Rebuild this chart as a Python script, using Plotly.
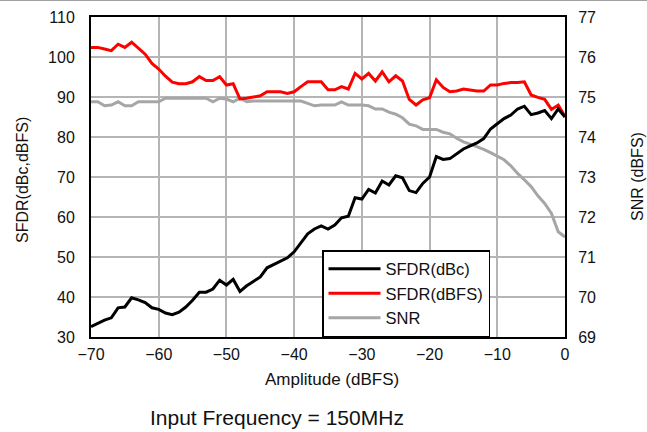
import plotly.graph_objects as go

amplitude = list(range(-70, 1))

sfdr_dbc = [32.6, 33.5, 34.2, 34.8, 37.3, 37.5, 39.8, 39.3, 38.6, 37.3,
            36.9, 36.0, 35.6, 36.2, 37.5, 39.2, 41.2, 41.2, 42.0, 44.2,
            43.0, 44.4, 41.4, 42.8, 43.8, 45.0, 47.3, 48.2, 49.0, 49.8,
            51.3, 53.4, 55.8, 57.0, 57.8, 57.0, 58.0, 59.8, 60.2, 64.8,
            64.5, 66.9, 66.0, 69.0, 68.0, 70.3, 69.8, 66.6, 66.1, 68.4,
            70.0, 75.1, 74.4, 74.6, 75.8, 77.0, 77.8, 78.5, 79.6, 82.0,
            83.3, 84.6, 85.5, 87.0, 87.7, 85.6, 86.0, 86.6, 84.6, 87.0,
            85.0]

sfdr_dbfs = [102.4, 102.4, 102.0, 101.6, 103.2, 102.4, 103.7, 102.2, 100.7, 98.4,
             97.0, 95.2, 93.7, 93.3, 93.3, 93.8, 95.1, 94.1, 94.1, 95.1,
             93.0, 93.3, 89.5, 89.7, 90.0, 90.3, 91.3, 91.3, 91.3, 90.9,
             91.3, 92.6, 93.8, 93.8, 93.8, 91.8, 91.8, 92.6, 92.0, 95.9,
             94.5, 95.9, 94.0, 96.3, 93.8, 95.3, 94.0, 89.4, 88.0, 89.3,
             89.8, 94.3, 92.4, 91.3, 91.5, 92.0, 91.8, 91.5, 91.5, 93.0,
             93.0, 93.4, 93.6, 93.6, 93.8, 90.5, 89.9, 89.4, 86.9, 88.0,
             85.1]

snr = [74.88, 74.88, 74.78, 74.80, 74.88, 74.78, 74.78, 74.88, 74.88, 74.88,
       74.88, 74.97, 74.97, 74.97, 74.97, 74.97, 74.97, 74.97, 74.88, 74.97,
       74.95, 74.88, 74.97, 74.88, 74.90, 74.90, 74.90, 74.90, 74.90, 74.90,
       74.90, 74.90, 74.84, 74.78, 74.80, 74.80, 74.80, 74.88, 74.80, 74.80,
       74.80, 74.78, 74.70, 74.70, 74.62, 74.57, 74.48, 74.32, 74.28, 74.19,
       74.19, 74.19, 74.12, 74.08, 73.97, 73.88, 73.82, 73.76, 73.69, 73.61,
       73.51, 73.43, 73.28, 73.09, 72.93, 72.76, 72.53, 72.34, 72.09, 71.63,
       71.50]

x_ticks = [-70, -60, -50, -40, -30, -20, -10, 0]
x_tick_labels = ["\u221270", "\u221260", "\u221250", "\u221240", "\u221230", "\u221220", "\u221210", "0"]
left_ticks = [30, 40, 50, 60, 70, 80, 90, 100, 110]
right_ticks = [69, 70, 71, 72, 73, 74, 75, 76, 77]

FONT = "Arial, Liberation Sans, sans-serif"
GRID = "#b5b5b5"

fig = go.Figure()
fig.add_trace(go.Scatter(x=amplitude, y=snr, name="SNR", mode="lines",
                         line=dict(color="#a6a6a6", width=3), yaxis="y", legendrank=3))
fig.add_trace(go.Scatter(x=amplitude, y=sfdr_dbfs, name="SFDR(dBFS)", mode="lines",
                         line=dict(color="#ff0000", width=3), yaxis="y2", legendrank=2))
fig.add_trace(go.Scatter(x=amplitude, y=sfdr_dbc, name="SFDR(dBc)", mode="lines",
                         line=dict(color="#000000", width=3), yaxis="y2", legendrank=1))

fig.update_layout(
    template="none",
    width=647, height=432,
    margin=dict(l=91, r=82, t=17, b=95, autoexpand=False),
    paper_bgcolor="white", plot_bgcolor="white",
    font=dict(family=FONT, size=16, color="#111111"),
    showlegend=True,
    legend=dict(x=(322 - 91) / 474, y=0, xanchor="left", yanchor="bottom",
                bgcolor="white", bordercolor="#000000", borderwidth=1.5,
                font=dict(size=16.5, color="#111111"), traceorder="normal",
                itemwidth=52, tracegroupgap=0),
    xaxis=dict(range=[-70, 0], tickvals=x_ticks, ticktext=x_tick_labels,
               showgrid=True, gridcolor=GRID, gridwidth=1.5, automargin=False,
               showline=True, linecolor="#000000", linewidth=2, mirror=True,
               ticks="", zeroline=False, ticklabelstandoff=2,
               tickfont=dict(size=16)),
    yaxis=dict(range=[69, 77], tickvals=right_ticks, side="right", automargin=False,
               showgrid=False, showline=True, linecolor="#000000", linewidth=2,
               ticks="", zeroline=False, ticklabelstandoff=8,
               tickfont=dict(size=16)),
    yaxis2=dict(range=[30, 110], tickvals=left_ticks, side="left", overlaying="y",
                showgrid=True, gridcolor=GRID, gridwidth=1.5, automargin=False,
                showline=True, linecolor="#000000", linewidth=2,
                ticks="", zeroline=False, ticklabelstandoff=11,
                tickfont=dict(size=16)),
)

# thin grey border line along the top edge of the picture
fig.add_shape(type="line", xref="paper", yref="paper",
              x0=-91 / 474, x1=(647 - 91) / 474, y0=(337 - 0.5) / 320, y1=(337 - 0.5) / 320,
              line=dict(color="#a0a0a0", width=1))

fig.add_annotation(text="Amplitude (dBFS)", xref="paper", yref="paper",
                   x=(332 - 91) / 474, y=(337 - 379) / 320, xanchor="center", yanchor="middle",
                   showarrow=False, font=dict(size=17))
fig.add_annotation(text="SFDR(dBc,dBFS)", xref="paper", yref="paper",
                   x=(22 - 91) / 474, y=(337 - 180) / 320, xanchor="center", yanchor="middle",
                   textangle=-90, showarrow=False, font=dict(size=16))
fig.add_annotation(text="SNR (dBFS)", xref="paper", yref="paper",
                   x=(637 - 91) / 474, y=(337 - 177) / 320, xanchor="center", yanchor="middle",
                   textangle=-90, showarrow=False, font=dict(size=16))
fig.add_annotation(text="Input Frequency = 150MHz", xref="paper", yref="paper",
                   x=(277 - 91) / 474, y=(337 - 417) / 320, xanchor="center", yanchor="middle",
                   showarrow=False, font=dict(size=21))

fig.write_html("out.html", config={"displayModeBar": False},
               post_script="document.body.style.margin='0';document.body.style.padding='0';")
